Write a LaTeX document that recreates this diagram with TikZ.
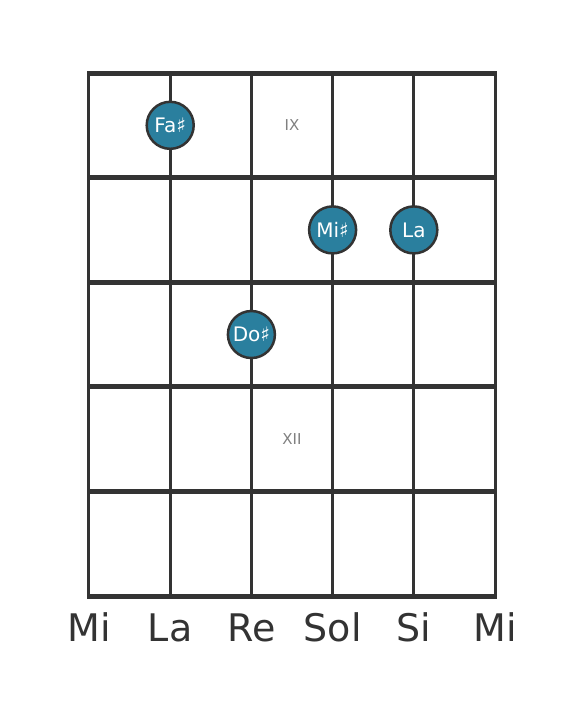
\documentclass[tikz,border=0pt]{standalone}
\usepackage{fontspec}
\setmainfont{DejaVu Sans}
\definecolor{notefill}{HTML}{2A7F9E}
\definecolor{wire}{HTML}{333333}

\begin{document}
\begin{tikzpicture}[x = 81.2pt, y = -104.6pt,
	note/.style = {circle, fill = notefill, draw = wire, line width = 2.5pt, minimum size = 47pt, inner sep = 0pt, text = white, font = \fontsize{20}{20}\selectfont},
	fretnum/.style = {text = gray, font = \fontsize{15}{15}\selectfont},
	stringname/.style = {text = wire, font = \fontsize{38}{38}\selectfont}]

	\useasboundingbox (-1.096, -0.698) rectangle (6.096, 6.099);

	% Strings and frets
	
	\foreach \s in {0, 1, ..., 5}
		\draw [wire, line width = 3pt] (\s, 0) -- (\s, 5);
	
	\foreach \f in {0, 1, ..., 5}
		\draw [wire, line width = 5pt] (-0.02, \f) -- (5.02, \f);
	
	% Fret numbers
	
	\node [fretnum] (ix) at (2.5, 0.5) {IX};
	\node [fretnum] (xii) at (2.5, 3.5) {XII};
	
	% Notes
	
	\node [note] (fa) at (1, 0.5) {Fa♯};
	\node [note] (mi) at (3, 1.5) {Mi♯};
	\node [note] (la) at (4, 1.5) {La};
	\node [note] (do) at (2, 2.5) {Do♯};
	
	% String names
	
	\foreach \n [count = \i from 0] in {Mi, La, Re, Sol, Si, Mi}
		\node [stringname] (s\i) at (\i, 5.30) {\n};
	
\end{tikzpicture}
\end{document}
